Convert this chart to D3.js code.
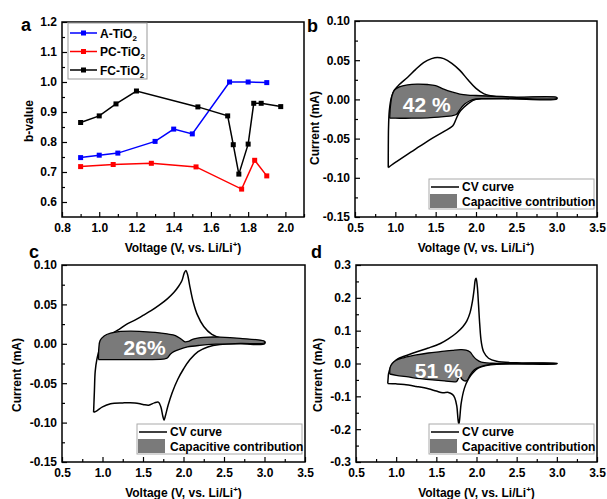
<!DOCTYPE html>
<html>
<head>
<meta charset="utf-8">
<script src="https://cdn.jsdelivr.net/npm/d3@7"></script>
<style>
body { margin: 0; background: #fff; }
svg text { font-family: "Liberation Sans", Arial, sans-serif; font-weight: bold; fill: #000; }
</style>
</head>
<body>
<svg id="chart" width="607" height="499"></svg>
<script>
// ---- panel a: b-value vs voltage ----
const aVoltage = [0.9, 1.0, 1.1, 1.3, 1.4, 1.5, 1.7, 1.8, 1.9];
const aBvalue = [0.748, 0.756, 0.763, 0.802, 0.843, 0.827, 1.0, 1.0, 0.998];
const pcVoltage = [0.9, 1.075, 1.28, 1.52, 1.765, 1.835, 1.9];
const pcBvalue = [0.718, 0.725, 0.729, 0.717, 0.643, 0.739, 0.687];
const fcVoltage = [0.9, 1.0, 1.09, 1.2, 1.53, 1.69, 1.72, 1.75, 1.8, 1.83, 1.87, 1.975];
const fcBvalue = [0.865, 0.887, 0.927, 0.970, 0.917, 0.887, 0.791, 0.693, 0.793, 0.929, 0.929, 0.918];
const seriesNames = ["A-TiO", "PC-TiO", "FC-TiO"];
const seriesColors = ["#0000ff", "#ff0000", "#000000"];

// ticks
const aXTicks = [0.8, 1.0, 1.2, 1.4, 1.6, 1.8, 2.0];
const aYTicks = [0.6, 0.7, 0.8, 0.9, 1.0, 1.1, 1.2];
const cvXTicks = [0.5, 1.0, 1.5, 2.0, 2.5, 3.0, 3.5];
const bcYTicks = [-0.15, -0.10, -0.05, 0.00, 0.05, 0.10];
const dYTicks = [-0.3, -0.2, -0.1, 0.0, 0.1, 0.2, 0.3];

// ---- panel b: CV loop and capacitive part (V, mA) ----
const cvB = [[0.912,-0.087],[0.913,-0.06],[0.916,-0.035],[0.925,-0.015],[0.95,0.002],[0.99,0.012],[1.05,0.019],[1.15,0.028],[1.25,0.038],[1.35,0.047],[1.45,0.052],[1.52,0.0535],[1.6,0.052],[1.7,0.046],[1.8,0.037],[1.9,0.025],[2.0,0.014],[2.1,0.007],[2.25,0.0035],[2.5,0.0022],[3.0,0.002],
  [3.0,0.0005],[2.5,0.0006],[2.1,0.0008],[2.0,0.0],[1.92,-0.004],[1.85,-0.010],[1.79,-0.017],[1.75,-0.026],[1.71,-0.034],[1.6,-0.041],[1.45,-0.050],[1.3,-0.060],[1.15,-0.070],[1.02,-0.079],[0.95,-0.084],[0.912,-0.087]];
const capB = [[0.93,-0.024],[0.94,-0.008],[0.96,0.005],[0.99,0.012],[1.05,0.016],[1.15,0.0185],[1.27,0.0195],[1.4,0.019],[1.5,0.0175],[1.6,0.013],[1.7,0.0095],[1.8,0.0068],[1.9,0.0055],[2.0,0.005],[2.2,0.004],[2.5,0.003],[3.0,0.0026],
  [3.0,0.0012],[2.5,0.0012],[2.1,0.001],[2.0,0.0005],[1.92,-0.002],[1.86,-0.006],[1.8,-0.013],[1.76,-0.019],[1.7,-0.021],[1.6,-0.022],[1.4,-0.0235],[1.2,-0.024],[1.0,-0.024],[0.93,-0.024]];

// ---- panel c ----
const cvC = [[0.89,-0.087],[0.9,-0.06],[0.91,-0.035],[0.93,-0.02],[0.97,-0.005],[1.03,0.005],[1.1,0.012],[1.2,0.018],[1.3,0.025],[1.4,0.030],[1.5,0.036],[1.6,0.042],[1.7,0.049],[1.8,0.057],[1.88,0.065],[1.94,0.073],[1.98,0.080],[2.01,0.090],[2.03,0.093],[2.05,0.088],[2.08,0.072],[2.12,0.053],[2.17,0.037],[2.25,0.022],[2.35,0.012],[2.5,0.006],[2.7,0.004],[3.0,0.003],
  [3.0,0.0],[2.7,0.0],[2.45,-0.001],[2.3,-0.004],[2.18,-0.010],[2.08,-0.020],[2.0,-0.032],[1.93,-0.045],[1.86,-0.062],[1.81,-0.078],[1.775,-0.092],[1.76,-0.097],[1.745,-0.092],[1.72,-0.080],[1.69,-0.074],[1.64,-0.075],[1.57,-0.078],[1.5,-0.077],[1.4,-0.075],[1.25,-0.075],[1.1,-0.076],[1.0,-0.080],[0.93,-0.085],[0.89,-0.087]];
const capC = [[0.95,-0.020],[0.955,-0.005],[0.97,0.004],[1.02,0.010],[1.1,0.0135],[1.2,0.0155],[1.35,0.016],[1.5,0.0155],[1.65,0.0145],[1.8,0.0125],[1.9,0.0105],[1.97,0.006],[2.02,0.0025],[2.06,0.003],[2.12,0.006],[2.25,0.0082],[2.45,0.0085],[2.7,0.007],[3.0,0.003],
  [3.0,0.0012],[2.7,0.0005],[2.4,-0.0005],[2.2,-0.002],[2.05,-0.004],[1.95,-0.007],[1.88,-0.010],[1.84,-0.013],[1.80,-0.018],[1.77,-0.019],[1.6,-0.020],[1.3,-0.020],[0.95,-0.020]];

// ---- panel d ----
const cvD = [[0.895,-0.061],[0.9,-0.045],[0.905,-0.032],[0.93,-0.012],[0.97,0.003],[1.02,0.014],[1.1,0.022],[1.25,0.035],[1.4,0.047],[1.55,0.061],[1.65,0.075],[1.75,0.093],[1.83,0.112],[1.88,0.13],[1.92,0.155],[1.95,0.19],[1.97,0.225],[1.985,0.255],[1.995,0.26],[2.01,0.235],[2.025,0.18],[2.04,0.12],[2.06,0.065],[2.09,0.035],[2.15,0.016],[2.25,0.007],[2.5,0.002],[3.0,0.0005],
  [3.0,0.0],[2.5,-0.0005],[2.25,-0.002],[2.12,-0.006],[2.02,-0.014],[1.95,-0.03],[1.9,-0.047],[1.85,-0.075],[1.81,-0.12],[1.79,-0.17],[1.78,-0.185],[1.77,-0.17],[1.755,-0.13],[1.73,-0.105],[1.70,-0.094],[1.65,-0.088],[1.58,-0.089],[1.5,-0.084],[1.4,-0.077],[1.25,-0.07],[1.1,-0.064],[1.0,-0.062],[0.895,-0.061]];
const capD = [[0.92,-0.032],[0.925,-0.012],[0.95,0.0],[1.0,0.01],[1.1,0.018],[1.25,0.026],[1.4,0.032],[1.55,0.036],[1.7,0.040],[1.8,0.042],[1.87,0.041],[1.92,0.035],[1.96,0.022],[2.0,0.012],[2.06,0.004],[2.2,0.001],[2.5,0.0005],[3.0,0.0],
  [3.0,-0.001],[2.5,-0.001],[2.2,-0.002],[2.08,-0.007],[2.0,-0.015],[1.95,-0.025],[1.91,-0.04],[1.88,-0.052],[1.85,-0.053],[1.82,-0.048],[1.79,-0.038],[1.77,-0.048],[1.75,-0.055],[1.6,-0.053],[1.45,-0.050],[1.3,-0.046],[1.15,-0.041],[1.0,-0.036],[0.92,-0.032]];

// percent labels: [V, mA, text]
const capLabels = { b: [1.39, -0.007, "42 %"], c: [1.52, -0.004, "26%"], d: [1.53, -0.02, "51 %"] };
const legendNames = ["CV curve", "Capacitive contribution"];

const svg = d3.select("#chart");

// draw one framed panel with inward ticks, returns scales
function makePanel(p) {
    const x = d3.scaleLinear().domain(p.xDomain).range([p.left, p.right]);
    const y = d3.scaleLinear().domain(p.yDomain).range([p.bottom, p.top]);
    const g = svg.append("g");

    // minor ticks
    g.append("g").attr("transform", `translate(0,${p.bottom})`)
        .call(d3.axisBottom(x).tickValues(p.xMinor).tickSize(-3).tickFormat(""));
    g.append("g").attr("transform", `translate(${p.left},0)`)
        .call(d3.axisLeft(y).tickValues(p.yMinor).tickSize(-3).tickFormat(""));
    // major ticks
    g.append("g").attr("transform", `translate(0,${p.bottom})`)
        .call(d3.axisBottom(x).tickValues(p.xTicks).tickSize(-5).tickPadding(6).tickFormat(d => d.toFixed(1)));
    g.append("g").attr("transform", `translate(${p.left},0)`)
        .call(d3.axisLeft(y).tickValues(p.yTicks).tickSize(-5).tickPadding(5).tickFormat(d => d.toFixed(p.yDigits)));
    g.selectAll(".domain").remove();
    g.selectAll(".tick line").attr("stroke", "#000").attr("stroke-width", 1.2);
    g.selectAll(".tick text").attr("font-size", 12).attr("font-family", null);

    // frame
    g.append("rect").attr("x", p.left).attr("y", p.top)
        .attr("width", p.right - p.left).attr("height", p.bottom - p.top)
        .attr("fill", "none").attr("stroke", "#000").attr("stroke-width", 1.5);

    // x title
    const xt = g.append("text").attr("x", (p.left + p.right) / 2).attr("y", p.bottom + 35)
        .attr("text-anchor", "middle").attr("font-size", 12);
    xt.append("tspan").text("Voltage (V, vs. Li/Li");
    xt.append("tspan").attr("dy", -5).attr("font-size", 8).text("+");
    xt.append("tspan").attr("dy", 5).text(")");

    // y title
    g.append("text").attr("transform", `translate(${p.yTitleX},${p.yTitleY}) rotate(-90)`)
        .attr("text-anchor", "middle").attr("font-size", 12).text(p.yTitle);

    // panel letter
    g.append("text").attr("x", p.letterX).attr("y", p.letterY).attr("font-size", 18).text(p.letter);

    return { g, x, y };
}

// ---- panel a ----
const pa = makePanel({
    left: 62, right: 304, top: 22, bottom: 217,
    xDomain: [0.8, 2.1], yDomain: [0.55, 1.2],
    xTicks: aXTicks, xMinor: [0.9, 1.1, 1.3, 1.5, 1.7, 1.9, 2.1],
    yTicks: aYTicks, yMinor: [0.65, 0.75, 0.85, 0.95, 1.05, 1.15], yDigits: 1,
    yTitle: "b-value", yTitleX: 33, yTitleY: 121,
    letter: "a", letterX: 21, letterY: 31
});

const aSeries = [
    aVoltage.map((v, i) => [v, aBvalue[i]]),
    pcVoltage.map((v, i) => [v, pcBvalue[i]]),
    fcVoltage.map((v, i) => [v, fcBvalue[i]])
];
const aLine = d3.line().x(d => pa.x(d[0])).y(d => pa.y(d[1]));
aSeries.forEach((s, k) => {
    pa.g.append("path").attr("d", aLine(s)).attr("fill", "none")
        .attr("stroke", seriesColors[k]).attr("stroke-width", 1.5);
    pa.g.selectAll(null).data(s).enter().append("rect")
        .attr("x", d => pa.x(d[0]) - 2.5).attr("y", d => pa.y(d[1]) - 2.5)
        .attr("width", 5).attr("height", 5).attr("fill", seriesColors[k]);
});

// legend a
const legA = pa.g.append("g");
legA.append("rect").attr("x", 68).attr("y", 23).attr("width", 79).attr("height", 56)
    .attr("fill", "#fff").attr("stroke", "#999").attr("stroke-width", 1);
seriesNames.forEach((name, k) => {
    const yy = 33 + k * 18.5;
    legA.append("line").attr("x1", 70).attr("x2", 97).attr("y1", yy).attr("y2", yy)
        .attr("stroke", seriesColors[k]).attr("stroke-width", 1.5);
    legA.append("rect").attr("x", 81).attr("y", yy - 2.5).attr("width", 5).attr("height", 5)
        .attr("fill", seriesColors[k]);
    const t = legA.append("text").attr("x", 100).attr("y", yy + 4.5).attr("font-size", 12);
    t.append("tspan").text(name);
    t.append("tspan").attr("dy", 3).attr("font-size", 8).text("2");
});

// ---- CV panels ----
function drawCV(pp, cv, cap, label) {
    const line = d3.line().x(d => pp.x(d[0])).y(d => pp.y(d[1])).curve(d3.curveCatmullRom.alpha(0.5));
    pp.g.append("path").attr("d", line(cv)).attr("fill", "none")
        .attr("stroke", "#000").attr("stroke-width", 1.5);
    pp.g.append("path").attr("d", line(cap)).attr("fill", "#7a7a7a")
        .attr("stroke", "#000").attr("stroke-width", 1.3);
    pp.g.append("text").attr("x", pp.x(label[0])).attr("y", pp.y(label[1])).attr("dy", "0.36em")
        .attr("text-anchor", "middle").attr("font-size", 21).style("fill", "#fff").text(label[2]);

    // legend bottom right
    const lx = pp.x.range()[1] - 168, ly = pp.y.range()[0] - 38;
    const leg = pp.g.append("g");
    leg.append("rect").attr("x", lx).attr("y", ly).attr("width", 165).attr("height", 30)
        .attr("fill", "#fff").attr("stroke", "#aaa").attr("stroke-width", 1);
    leg.append("line").attr("x1", lx + 2).attr("x2", lx + 30).attr("y1", ly + 8).attr("y2", ly + 8)
        .attr("stroke", "#000").attr("stroke-width", 1.5);
    leg.append("rect").attr("x", lx + 1).attr("y", ly + 15).attr("width", 27).attr("height", 14)
        .attr("fill", "#7a7a7a");
    legendNames.forEach((n, i) => {
        leg.append("text").attr("x", lx + 33).attr("y", ly + 12 + i * 14.5).attr("font-size", 12).text(n);
    });
}

const pb = makePanel({
    left: 355, right: 597, top: 21, bottom: 217,
    xDomain: [0.5, 3.5], yDomain: [-0.15, 0.10],
    xTicks: cvXTicks, xMinor: [0.75, 1.25, 1.75, 2.25, 2.75, 3.25],
    yTicks: bcYTicks, yMinor: [-0.125, -0.075, -0.025, 0.025, 0.075], yDigits: 2,
    yTitle: "Current (mA)", yTitleX: 319, yTitleY: 128,
    letter: "b", letterX: 307, letterY: 32
});
drawCV(pb, cvB, capB, capLabels.b);

const pc = makePanel({
    left: 62, right: 305, top: 265, bottom: 462,
    xDomain: [0.5, 3.5], yDomain: [-0.15, 0.10],
    xTicks: cvXTicks, xMinor: [0.75, 1.25, 1.75, 2.25, 2.75, 3.25],
    yTicks: bcYTicks, yMinor: [-0.125, -0.075, -0.025, 0.025, 0.075], yDigits: 2,
    yTitle: "Current (mA)", yTitleX: 21, yTitleY: 375,
    letter: "c", letterX: 29, letterY: 258
});
drawCV(pc, cvC, capC, capLabels.c);

const pd = makePanel({
    left: 356, right: 597, top: 265, bottom: 462,
    xDomain: [0.5, 3.5], yDomain: [-0.3, 0.3],
    xTicks: cvXTicks, xMinor: [0.75, 1.25, 1.75, 2.25, 2.75, 3.25],
    yTicks: dYTicks, yMinor: [-0.25, -0.15, -0.05, 0.05, 0.15, 0.25], yDigits: 1,
    yTitle: "Current (mA)", yTitleX: 322, yTitleY: 375,
    letter: "d", letterX: 311, letterY: 258
});
drawCV(pd, cvD, capD, capLabels.d);
</script>
</body>
</html>
